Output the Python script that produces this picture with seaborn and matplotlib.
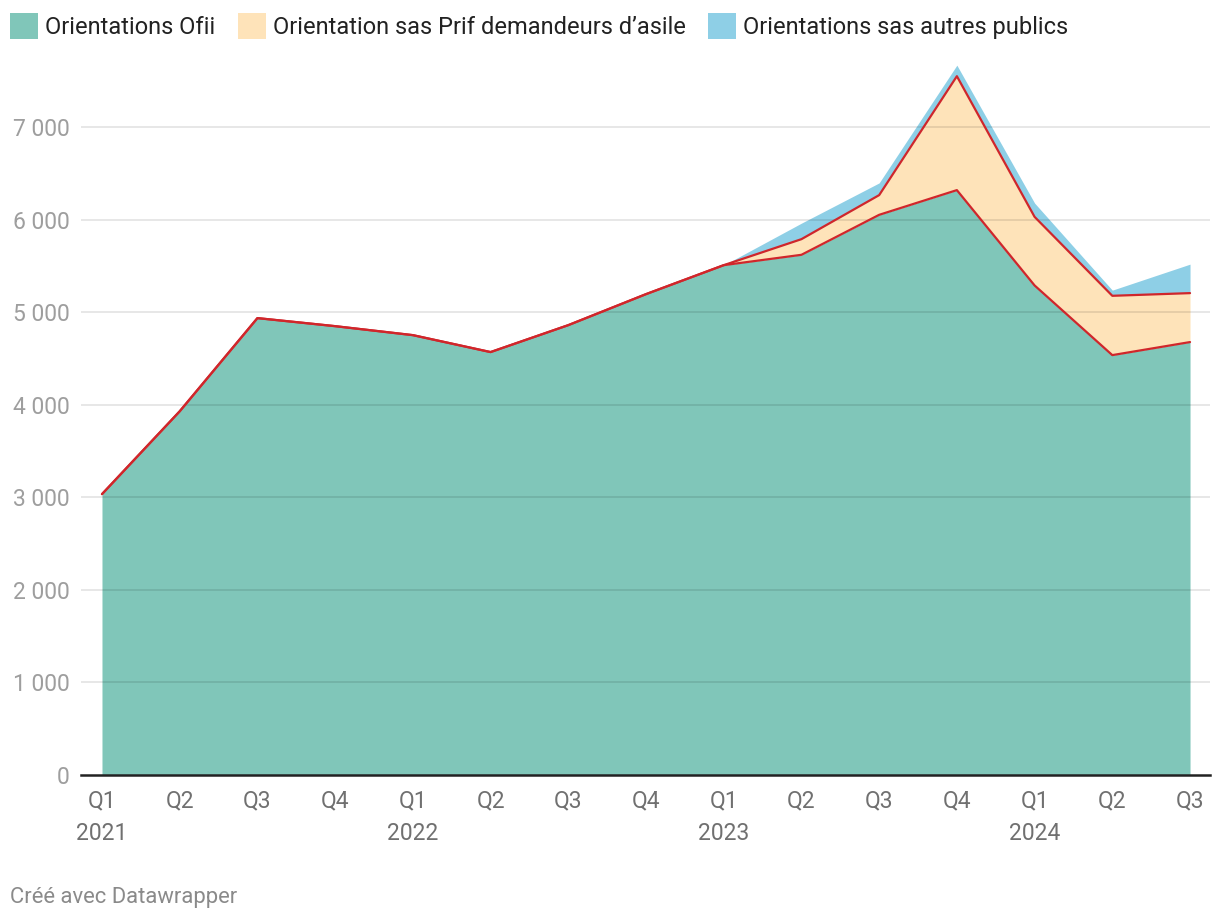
import matplotlib
matplotlib.use("Agg")
from matplotlib import pyplot as plt
from matplotlib.ticker import FuncFormatter
from matplotlib.patches import Patch
import seaborn as sns
import pandas as pd
import numpy as np

# quarters Q1 2021 -> Q3 2024
quarters = ["Q1", "Q2", "Q3", "Q4", "Q1", "Q2", "Q3", "Q4",
            "Q1", "Q2", "Q3", "Q4", "Q1", "Q2", "Q3"]
years = ["2021", "", "", "", "2022", "", "", "",
         "2023", "", "", "", "2024", "", ""]

ofii = [3035, 3930, 4937, 4850, 4753, 4570, 4861, 5196,
        5509, 5621, 6053, 6320, 5290, 4537, 4678]
prif = [0, 0, 0, 0, 0, 0, 0, 0,
        0, 169, 213, 1231, 741, 641, 529]
autres = [0, 0, 0, 0, 0, 0, 0, 0,
          0, 173, 132, 119, 149, 61, 313]

labels = ["Orientations Ofii", "Orientation sas Prif demandeurs d\u2019asile",
          "Orientations sas autres publics"]
colors = ["#80c6b9", "#fee3b9", "#8ecfe6"]
red = "#d0262b"

sns.set_theme(style="white")
plt.rcParams["font.family"] = ["Roboto", "DejaVu Sans"]

df = pd.DataFrame({"x": np.arange(len(ofii)), "ofii": ofii, "prif": prif, "autres": autres})
df["top1"] = df["ofii"]
df["top2"] = df["ofii"] + df["prif"]

fig = plt.figure(figsize=(12.2, 9.24), dpi=100)
ax = fig.add_axes([81 / 1220, 1 - 775 / 924, 1129 / 1220, 720 / 924])

ax.stackplot(df["x"], df["ofii"], df["prif"], df["autres"], colors=colors, linewidth=0, zorder=1)

for y in [1000, 2000, 3000, 4000, 5000, 6000, 7000]:
    ax.axhline(y, color="black", alpha=0.1, lw=1.3, zorder=2)

sns.lineplot(data=df, x="x", y="top2", color=red, lw=1.6, ax=ax, zorder=3)
sns.lineplot(data=df, x="x", y="top1", color=red, lw=1.6, ax=ax, zorder=3)

ax.set_xlim(-0.27, 14.257)
ax.set_ylim(0, 7780)
for s in ["top", "right", "left"]:
    ax.spines[s].set_visible(False)
ax.spines["bottom"].set_color("#222222")
ax.spines["bottom"].set_linewidth(1.8)
ax.spines["bottom"].set_zorder(4)

ax.set_yticks([0, 1000, 2000, 3000, 4000, 5000, 6000, 7000])
ax.yaxis.set_major_formatter(FuncFormatter(lambda v, p: f"{int(v):,}".replace(",", " ")))
ax.tick_params(axis="y", length=0, pad=8, labelsize=16.5, labelcolor="#9e9e9e")

ax.set_xticks(df["x"])
ax.set_xticklabels([q + ("\n" + y if y else "") for q, y in zip(quarters, years)])
ax.tick_params(axis="x", length=0, pad=10.5, labelsize=16.5, labelcolor="#707070")
for t in ax.get_xticklabels():
    t.set_linespacing(1.5)
ax.set_xlabel("")
ax.set_ylabel("")

handles = [Patch(facecolor=c, edgecolor="none") for c in colors]
fig.legend(handles, labels, loc="upper left", bbox_to_anchor=(10 / 1220, 1 - 13 / 924), ncol=3,
           frameon=False, fontsize=17, handlelength=1.2, handleheight=1.3, handletextpad=0.28,
           columnspacing=0.95, labelcolor="#222222", borderaxespad=0, borderpad=0)

fig.text(10 / 1220, 1 - 898 / 924, "Cr\u00e9\u00e9 avec Datawrapper", fontsize=15.8,
         color="#8a8a8a", va="center", ha="left")

fig.savefig("out.png", dpi=100)
